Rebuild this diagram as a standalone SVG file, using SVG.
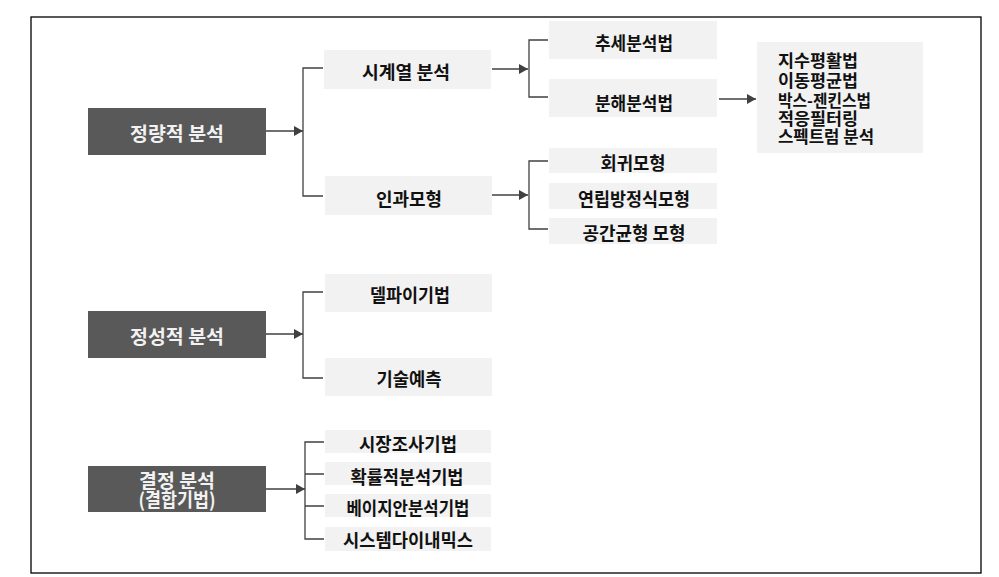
<svg xmlns="http://www.w3.org/2000/svg" width="999" height="577" viewBox="0 0 999 577">
<style>
.frame{fill:#fff;stroke:#000;stroke-width:1.3}
.dark{fill:#595959}
.light{fill:#f2f2f2}
.dt{font-family:"Noto Sans CJK KR","Noto Sans",sans-serif;font-weight:bold;font-size:19px;fill:#f2f2f2;text-anchor:middle}
.lt{font-family:"Noto Sans CJK KR","Noto Sans",sans-serif;font-weight:bold;font-size:18px;fill:#111;text-anchor:middle}
.lft{font-family:"Noto Sans CJK KR","Noto Sans",sans-serif;font-weight:bold;font-size:17px;fill:#111}
.c{fill:none;stroke:#404040;stroke-width:1.3}
</style>
<defs>
<marker id="ah" markerUnits="userSpaceOnUse" markerWidth="9" markerHeight="10" refX="9" refY="5" orient="auto">
<path d="M0,0 L9,5 L0,10 z" fill="#404040"/>
</marker>
</defs>
<rect class="frame" x="31" y="17" width="950" height="556"/>
<g id="connectors">
<line class="c" x1="266" y1="131" x2="303" y2="131" marker-end="url(#ah)"/>
<path class="c" d="M323,68 H303 V196 H323"/>
<line class="c" x1="492" y1="69" x2="528" y2="69" marker-end="url(#ah)"/>
<path class="c" d="M548,40 H529 V97 H548"/>
<line class="c" x1="492" y1="195" x2="528" y2="195" marker-end="url(#ah)"/>
<path class="c" d="M548,161 H529 V229 H548"/>
<line class="c" x1="719" y1="99" x2="756" y2="99" marker-end="url(#ah)"/>
<line class="c" x1="266" y1="334" x2="303" y2="334" marker-end="url(#ah)"/>
<path class="c" d="M323,292 H303 V378 H323"/>
<line class="c" x1="266" y1="489" x2="305" y2="489" marker-end="url(#ah)"/>
<path class="c" d="M324,442 H305 V539 H324 M305,474 H324 M305,506 H324"/>
</g>
<g id="n-quant"><rect class="dark" x="88" y="108" width="178" height="47"/><text class="dt" x="177" y="140.5" textLength="94" lengthAdjust="spacingAndGlyphs">정량적 분석</text></g>
<g id="n-qual"><rect class="dark" x="88" y="311" width="178" height="47"/><text class="dt" x="177" y="343.5" textLength="94" lengthAdjust="spacingAndGlyphs">정성적 분석</text></g>
<g id="n-decision"><rect class="dark" x="88" y="466" width="178" height="46"/><text class="dt" x="177" y="487.5" textLength="76" lengthAdjust="spacingAndGlyphs">결정 분석</text><text class="dt" x="177" y="506.5" textLength="77" lengthAdjust="spacingAndGlyphs">(결합기법)</text></g>
<g id="n-timeseries"><rect class="light" x="324" y="50" width="167" height="39"/><text class="lt" x="406" y="78.5" textLength="88" lengthAdjust="spacingAndGlyphs">시계열 분석</text></g>
<g id="n-causal"><rect class="light" x="325" y="176" width="167" height="39"/><text class="lt" x="409" y="206" textLength="66" lengthAdjust="spacingAndGlyphs">인과모형</text></g>
<g id="n-trend"><rect class="light" x="549" y="21" width="168" height="38"/><text class="lt" x="634" y="49.5" textLength="78" lengthAdjust="spacingAndGlyphs">추세분석법</text></g>
<g id="n-decomp"><rect class="light" x="549" y="79" width="168" height="38"/><text class="lt" x="634" y="110" textLength="78" lengthAdjust="spacingAndGlyphs">분해분석법</text></g>
<g id="n-methods"><rect class="light" x="757" y="42" width="166" height="111"/>
<text class="lft" x="778" y="67" textLength="80" lengthAdjust="spacingAndGlyphs">지수평활법</text>
<text class="lft" x="778" y="87" textLength="80" lengthAdjust="spacingAndGlyphs">이동평균법</text>
<text class="lft" x="778" y="106.5" textLength="93" lengthAdjust="spacingAndGlyphs">박스-젠킨스법</text>
<text class="lft" x="778" y="125" textLength="80" lengthAdjust="spacingAndGlyphs">적응필터링</text>
<text class="lft" x="778" y="142.5" textLength="96" lengthAdjust="spacingAndGlyphs">스펙트럼 분석</text>
</g>
<g id="n-regression"><rect class="light" x="549" y="148" width="168" height="25"/><text class="lt" x="633" y="170" textLength="65" lengthAdjust="spacingAndGlyphs">회귀모형</text></g>
<g id="n-simul"><rect class="light" x="549" y="183" width="168" height="26"/><text class="lt" x="634" y="205.5" textLength="112" lengthAdjust="spacingAndGlyphs">연립방정식모형</text></g>
<g id="n-spatial"><rect class="light" x="549" y="218" width="168" height="26"/><text class="lt" x="634" y="240" textLength="103" lengthAdjust="spacingAndGlyphs">공간균형 모형</text></g>
<g id="n-delphi"><rect class="light" x="325" y="274" width="167" height="38"/><text class="lt" x="410" y="302" textLength="80" lengthAdjust="spacingAndGlyphs">델파이기법</text></g>
<g id="n-techfore"><rect class="light" x="325" y="358" width="167" height="38"/><text class="lt" x="409" y="386" textLength="65" lengthAdjust="spacingAndGlyphs">기술예측</text></g>
<g id="n-market"><rect class="light" x="325" y="430" width="166" height="23"/><text class="lt" x="408" y="451" textLength="98" lengthAdjust="spacingAndGlyphs">시장조사기법</text></g>
<g id="n-prob"><rect class="light" x="325" y="462" width="166" height="23"/><text class="lt" x="407" y="483.5" textLength="113" lengthAdjust="spacingAndGlyphs">확률적분석기법</text></g>
<g id="n-bayes"><rect class="light" x="325" y="494" width="166" height="23"/><text class="lt" x="408" y="515" textLength="123" lengthAdjust="spacingAndGlyphs">베이지안분석기법</text></g>
<g id="n-sysdyn"><rect class="light" x="325" y="527" width="166" height="24"/><text class="lt" x="408" y="547" textLength="130" lengthAdjust="spacingAndGlyphs">시스템다이내믹스</text></g>
</svg>
